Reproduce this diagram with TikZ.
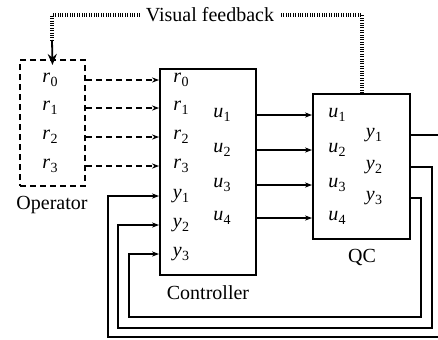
\documentclass[tikz,border=0pt]{standalone}
\usepackage{fontspec}
\setmainfont{Liberation Serif}
\usetikzlibrary{arrows.meta}
\newcommand{\lab}[2]{\textit{#1}\kern0.2pt\raisebox{-0.4ex}{\fontsize{7}{8}\selectfont #2}}
\begin{document}
\begin{tikzpicture}[x=0.5pt,y=-0.5pt,font=\rmfamily\fontsize{10}{12}\selectfont,
  lbl/.style={inner sep=0pt},
  sig/.style={line width=0.65pt,-{Stealth[length=3.5pt,width=2.6pt]}},
  dsig/.style={line width=0.75pt,dash pattern=on 3pt off 2pt,-{Stealth[length=3.5pt,width=2.6pt]}},
  vis/.style={line width=1.6pt,dash pattern=on 0.45pt off 0.75pt}]
\useasboundingbox (0,0) rectangle (438,339);
% boxes
\node[draw,line width=1pt,dash pattern=on 3pt off 2pt,minimum width=32.5pt,minimum height=63pt,inner sep=0pt] (op) at (52.5,123) {};
\node[draw,line width=1pt,minimum width=48pt,minimum height=103pt,inner sep=0pt] (ctrl) at (208,172) {};
\node[draw,line width=1pt,minimum width=48.5pt,minimum height=72.5pt,inner sep=0pt] (qc) at (361.5,166.5) {};
% titles
\node[lbl] (opt) at (52,205) {Operator};
\node[lbl] (ctt) at (208,293) {Controller};
\node[lbl] (qct) at (362,257) {QC};
% operator labels
\node[lbl] (or0) at (50,80) {\lab{r}{0}};
\node[lbl] (or1) at (50,108) {\lab{r}{1}};
\node[lbl] (or2) at (50,137) {\lab{r}{2}};
\node[lbl] (or3) at (50,166) {\lab{r}{3}};
% controller labels
\node[lbl] (cr0) at (181,80) {\lab{r}{0}};
\node[lbl] (cr1) at (181,108) {\lab{r}{1}};
\node[lbl] (cr2) at (181,137) {\lab{r}{2}};
\node[lbl] (cr3) at (181,166) {\lab{r}{3}};
\node[lbl] (cy1) at (181,196) {\lab{y}{1}};
\node[lbl] (cy2) at (181,225) {\lab{y}{2}};
\node[lbl] (cy3) at (181,254) {\lab{y}{3}};
\node[lbl] (cu1) at (222,115) {\lab{u}{1}};
\node[lbl] (cu2) at (222,150) {\lab{u}{2}};
\node[lbl] (cu3) at (222,185) {\lab{u}{3}};
\node[lbl] (cu4) at (222,218) {\lab{u}{4}};
% QC labels
\node[lbl] (qu1) at (337,115) {\lab{u}{1}};
\node[lbl] (qu2) at (337,150) {\lab{u}{2}};
\node[lbl] (qu3) at (337,185) {\lab{u}{3}};
\node[lbl] (qu4) at (337,218) {\lab{u}{4}};
\node[lbl] (qy1) at (374,135) {\lab{y}{1}};
\node[lbl] (qy2) at (374,167) {\lab{y}{2}};
\node[lbl] (qy3) at (374,198) {\lab{y}{3}};
% operator -> controller
\foreach \i in {0,1,2,3}
  \draw[dsig] (op.east |- cr\i) -- (ctrl.west |- cr\i);
% controller -> QC
\foreach \i in {1,2,3,4}
  \draw[sig] (ctrl.east |- qu\i) -- (qc.west |- qu\i);
% feedback loops
\draw[sig] (qc.east |- qy1) -- (445,135) |- (108,337) |- (ctrl.west |- cy1);
\draw[sig] (qc.east |- qy2) -- (432,167) |- (118,328) |- (ctrl.west |- cy2);
\draw[sig] (qc.east |- qy3) -- (421,198) |- (129,317) |- (ctrl.west |- cy3);
% visual feedback
\coordinate (vtop) at (362,15);
\draw[vis] (qc.north -| vtop) -- (vtop) -- (52,15) -- (52,40);
\draw[line width=0.9pt,-{Stealth[length=5.5pt,width=4.5pt]}] (52,40) -- ([yshift=-3pt]op.north);
\node[fill=white,inner xsep=3pt,inner ysep=1pt] (vf) at (210,15) {Visual feedback};
\end{tikzpicture}
\end{document}
